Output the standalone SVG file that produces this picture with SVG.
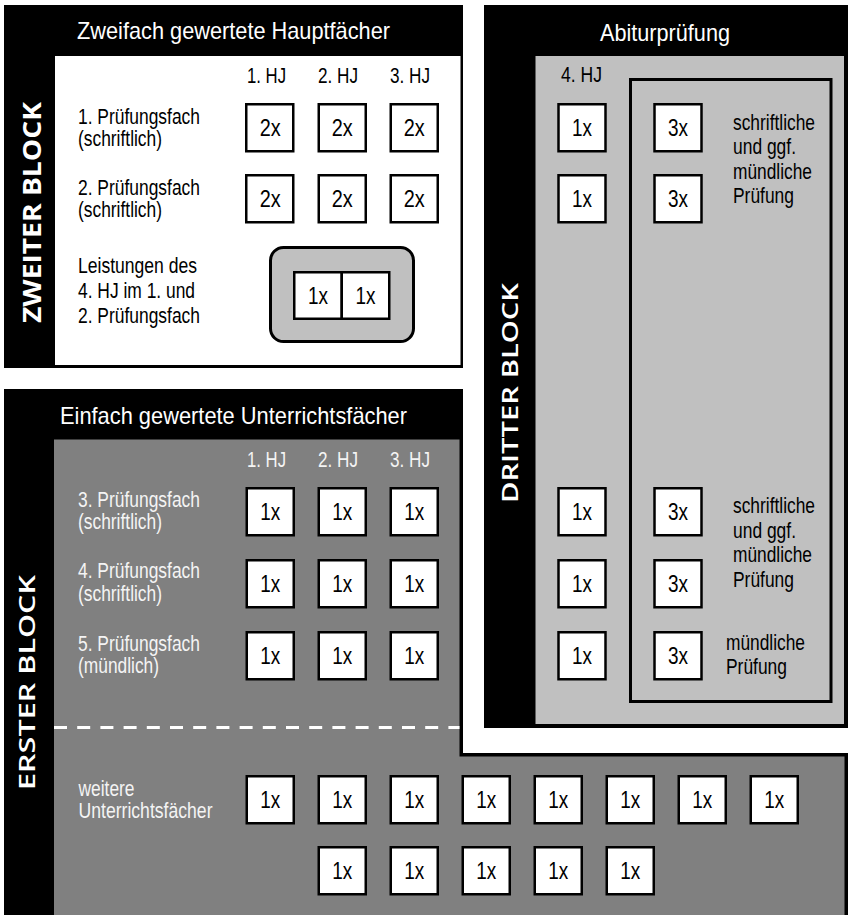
<svg xmlns="http://www.w3.org/2000/svg" width="849" height="915" viewBox="0 0 849 915">
<style>
.box{fill:#fff;stroke:#000;stroke-width:2.5}
.t{font-family:"Liberation Sans Narrow","Liberation Sans",Arial,sans-serif}
.bt{font-size:23.5px;text-anchor:middle;fill:#000}
.lbl{font-size:22px;fill:#000}
.lw{fill:#f4f4f4}
.hd{font-size:22px;text-anchor:middle}
.title{font-size:24px;fill:#fff;text-anchor:middle}
.vert{font-family:"Open Sans","DejaVu Sans","Liberation Sans",sans-serif;font-weight:700;fill:#fff;text-anchor:middle}
</style>
<rect width="849" height="915" fill="#fff"/>

<g id="zweiter-block">
<rect x="4" y="5" width="459" height="363" fill="#000"/>
<rect x="55" y="56" width="405.5" height="309" fill="#fff"/>
<text class="t title" x="233.5" y="39" textLength="313" lengthAdjust="spacingAndGlyphs">Zweifach gewertete Hauptfächer</text>
<text class="vert" transform="translate(41,212.5) rotate(-90)" font-size="25" textLength="221" lengthAdjust="spacingAndGlyphs">ZWEITER BLOCK</text>
<text class="t hd" x="266.5" y="83" textLength="39" lengthAdjust="spacingAndGlyphs">1. HJ</text>
<text class="t hd" x="338" y="83" textLength="40" lengthAdjust="spacingAndGlyphs">2. HJ</text>
<text class="t hd" x="410" y="83" textLength="40" lengthAdjust="spacingAndGlyphs">3. HJ</text>
<text class="t lbl" x="78" y="124" textLength="122" lengthAdjust="spacingAndGlyphs">1. Prüfungsfach</text>
<text class="t lbl" x="78" y="146" textLength="84" lengthAdjust="spacingAndGlyphs">(schriftlich)</text>
<text class="t lbl" x="78" y="195" textLength="122" lengthAdjust="spacingAndGlyphs">2. Prüfungsfach</text>
<text class="t lbl" x="78" y="217" textLength="84" lengthAdjust="spacingAndGlyphs">(schriftlich)</text>
<text class="t lbl" x="78" y="273" textLength="119" lengthAdjust="spacingAndGlyphs">Leistungen des</text>
<text class="t lbl" x="78" y="298" textLength="117" lengthAdjust="spacingAndGlyphs">4. HJ im 1. und</text>
<text class="t lbl" x="78" y="323" textLength="122" lengthAdjust="spacingAndGlyphs">2. Prüfungsfach</text>
<g id="z-1-1"><rect class="box" x="246.25" y="104.25" width="47" height="47"/><text class="t bt" x="270.25" y="136" textLength="21" lengthAdjust="spacingAndGlyphs">2x</text></g>
<g id="z-1-2"><rect class="box" x="318.75" y="104.25" width="47" height="47"/><text class="t bt" x="342.25" y="136" textLength="21" lengthAdjust="spacingAndGlyphs">2x</text></g>
<g id="z-1-3"><rect class="box" x="390.75" y="104.25" width="47" height="47"/><text class="t bt" x="414.25" y="136" textLength="21" lengthAdjust="spacingAndGlyphs">2x</text></g>
<g id="z-2-1"><rect class="box" x="246.25" y="175.25" width="47" height="47"/><text class="t bt" x="270.25" y="207" textLength="21" lengthAdjust="spacingAndGlyphs">2x</text></g>
<g id="z-2-2"><rect class="box" x="318.75" y="175.25" width="47" height="47"/><text class="t bt" x="342.25" y="207" textLength="21" lengthAdjust="spacingAndGlyphs">2x</text></g>
<g id="z-2-3"><rect class="box" x="390.75" y="175.25" width="47" height="47"/><text class="t bt" x="414.25" y="207" textLength="21" lengthAdjust="spacingAndGlyphs">2x</text></g>
<g id="z-hj4">
<rect x="270.5" y="247.5" width="143" height="94" rx="13" fill="#c0c0c0" stroke="#000" stroke-width="3"/>
<rect class="box" x="294.25" y="272.25" width="47.5" height="46.5"/><text class="t bt" x="318" y="304" textLength="20" lengthAdjust="spacingAndGlyphs">1x</text>
<rect class="box" x="341.75" y="272.25" width="47.5" height="46.5"/><text class="t bt" x="365.5" y="304" textLength="20" lengthAdjust="spacingAndGlyphs">1x</text>
</g>
</g>

<g id="abitur-block">
<rect x="484" y="5" width="364" height="723" fill="#000"/>
<rect x="535.5" y="56" width="308.5" height="668" fill="#c0c0c0"/>
<text class="t title" x="665" y="41" textLength="130" lengthAdjust="spacingAndGlyphs">Abiturprüfung</text>
<text class="vert" transform="translate(518,393) rotate(-90)" font-size="21" font-weight="600" textLength="220" lengthAdjust="spacingAndGlyphs" style="font-weight:600">DRITTER BLOCK</text>
<text class="t hd" x="581.5" y="82" textLength="41" lengthAdjust="spacingAndGlyphs">4. HJ</text>
<rect x="630.5" y="79.5" width="200.5" height="622" fill="none" stroke="#000" stroke-width="3"/>
<g id="a-1"><rect class="box" x="558.5" y="104.25" width="47" height="47"/><text class="t bt" x="582" y="136" textLength="20" lengthAdjust="spacingAndGlyphs">1x</text></g>
<g id="a-2"><rect class="box" x="558.5" y="175.25" width="47" height="47"/><text class="t bt" x="582" y="207" textLength="20" lengthAdjust="spacingAndGlyphs">1x</text></g>
<g id="a-3"><rect class="box" x="558.5" y="488.25" width="47" height="47"/><text class="t bt" x="582" y="520" textLength="20" lengthAdjust="spacingAndGlyphs">1x</text></g>
<g id="a-4"><rect class="box" x="558.5" y="560.25" width="47" height="47"/><text class="t bt" x="582" y="592" textLength="20" lengthAdjust="spacingAndGlyphs">1x</text></g>
<g id="a-5"><rect class="box" x="558.5" y="632.25" width="47" height="47"/><text class="t bt" x="582" y="664" textLength="20" lengthAdjust="spacingAndGlyphs">1x</text></g>
<g id="p-1"><rect class="box" x="654.5" y="104.25" width="47" height="47"/><text class="t bt" x="678" y="136" textLength="20" lengthAdjust="spacingAndGlyphs">3x</text></g>
<g id="p-2"><rect class="box" x="654.5" y="175.25" width="47" height="47"/><text class="t bt" x="678" y="207" textLength="20" lengthAdjust="spacingAndGlyphs">3x</text></g>
<g id="p-3"><rect class="box" x="654.5" y="488.25" width="47" height="47"/><text class="t bt" x="678" y="520" textLength="20" lengthAdjust="spacingAndGlyphs">3x</text></g>
<g id="p-4"><rect class="box" x="654.5" y="560.25" width="47" height="47"/><text class="t bt" x="678" y="592" textLength="20" lengthAdjust="spacingAndGlyphs">3x</text></g>
<g id="p-5"><rect class="box" x="654.5" y="632.25" width="47" height="47"/><text class="t bt" x="678" y="664" textLength="20" lengthAdjust="spacingAndGlyphs">3x</text></g>
<text class="t lbl" x="733" y="130" textLength="82" lengthAdjust="spacingAndGlyphs">schriftliche</text>
<text class="t lbl" x="733" y="154" textLength="63" lengthAdjust="spacingAndGlyphs">und ggf.</text>
<text class="t lbl" x="733" y="179" textLength="79" lengthAdjust="spacingAndGlyphs">mündliche</text>
<text class="t lbl" x="733" y="203" textLength="61" lengthAdjust="spacingAndGlyphs">Prüfung</text>
<text class="t lbl" x="733" y="513" textLength="82" lengthAdjust="spacingAndGlyphs">schriftliche</text>
<text class="t lbl" x="733" y="538" textLength="63" lengthAdjust="spacingAndGlyphs">und ggf.</text>
<text class="t lbl" x="733" y="562" textLength="79" lengthAdjust="spacingAndGlyphs">mündliche</text>
<text class="t lbl" x="733" y="587" textLength="61" lengthAdjust="spacingAndGlyphs">Prüfung</text>
<text class="t lbl" x="726" y="650" textLength="79" lengthAdjust="spacingAndGlyphs">mündliche</text>
<text class="t lbl" x="726" y="674" textLength="61" lengthAdjust="spacingAndGlyphs">Prüfung</text>
</g>

<g id="erster-block">
<path d="M4,389 H463 V753 H848 V915 H4 Z" fill="#000"/>
<path d="M54,439.5 H459.5 V756.5 H844.5 V915 H54 Z" fill="#808080"/>
<text class="t title" x="233.5" y="424" textLength="347" lengthAdjust="spacingAndGlyphs">Einfach gewertete Unterrichtsfächer</text>
<text class="vert" transform="translate(35,682.5) rotate(-90)" font-size="21" textLength="215" lengthAdjust="spacingAndGlyphs" style="font-weight:600">ERSTER BLOCK</text>
<line x1="54" y1="727.5" x2="459.5" y2="727.5" stroke="#fff" stroke-width="3" stroke-dasharray="13 10.2"/>
<text class="t hd lw" x="266.5" y="467" textLength="39" lengthAdjust="spacingAndGlyphs">1. HJ</text>
<text class="t hd lw" x="338" y="467" textLength="40" lengthAdjust="spacingAndGlyphs">2. HJ</text>
<text class="t hd lw" x="410" y="467" textLength="40" lengthAdjust="spacingAndGlyphs">3. HJ</text>
<text class="t lbl lw" x="78" y="507" textLength="122" lengthAdjust="spacingAndGlyphs">3. Prüfungsfach</text>
<text class="t lbl lw" x="78" y="529" textLength="84" lengthAdjust="spacingAndGlyphs">(schriftlich)</text>
<text class="t lbl lw" x="78" y="578" textLength="122" lengthAdjust="spacingAndGlyphs">4. Prüfungsfach</text>
<text class="t lbl lw" x="78" y="601" textLength="84" lengthAdjust="spacingAndGlyphs">(schriftlich)</text>
<text class="t lbl lw" x="78" y="651" textLength="122" lengthAdjust="spacingAndGlyphs">5. Prüfungsfach</text>
<text class="t lbl lw" x="78" y="673" textLength="81" lengthAdjust="spacingAndGlyphs">(mündlich)</text>
<text class="t lbl lw" x="78.5" y="796" textLength="56" lengthAdjust="spacingAndGlyphs">weitere</text>
<text class="t lbl lw" x="78.5" y="818" textLength="134" lengthAdjust="spacingAndGlyphs">Unterrichtsfächer</text>
<g id="e-3-1"><rect class="box" x="246.75" y="488.25" width="47" height="47"/><text class="t bt" x="270.25" y="520" textLength="20" lengthAdjust="spacingAndGlyphs">1x</text></g>
<g id="e-3-2"><rect class="box" x="318.75" y="488.25" width="47" height="47"/><text class="t bt" x="342.25" y="520" textLength="20" lengthAdjust="spacingAndGlyphs">1x</text></g>
<g id="e-3-3"><rect class="box" x="390.75" y="488.25" width="47" height="47"/><text class="t bt" x="414.25" y="520" textLength="20" lengthAdjust="spacingAndGlyphs">1x</text></g>
<g id="e-4-1"><rect class="box" x="246.75" y="560.25" width="47" height="47"/><text class="t bt" x="270.25" y="592" textLength="20" lengthAdjust="spacingAndGlyphs">1x</text></g>
<g id="e-4-2"><rect class="box" x="318.75" y="560.25" width="47" height="47"/><text class="t bt" x="342.25" y="592" textLength="20" lengthAdjust="spacingAndGlyphs">1x</text></g>
<g id="e-4-3"><rect class="box" x="390.75" y="560.25" width="47" height="47"/><text class="t bt" x="414.25" y="592" textLength="20" lengthAdjust="spacingAndGlyphs">1x</text></g>
<g id="e-5-1"><rect class="box" x="246.75" y="632.25" width="47" height="47"/><text class="t bt" x="270.25" y="664" textLength="20" lengthAdjust="spacingAndGlyphs">1x</text></g>
<g id="e-5-2"><rect class="box" x="318.75" y="632.25" width="47" height="47"/><text class="t bt" x="342.25" y="664" textLength="20" lengthAdjust="spacingAndGlyphs">1x</text></g>
<g id="e-5-3"><rect class="box" x="390.75" y="632.25" width="47" height="47"/><text class="t bt" x="414.25" y="664" textLength="20" lengthAdjust="spacingAndGlyphs">1x</text></g>
<g id="w-1-1"><rect class="box" x="246.75" y="776.25" width="47" height="47"/><text class="t bt" x="270.25" y="808" textLength="20" lengthAdjust="spacingAndGlyphs">1x</text></g>
<g id="w-1-2"><rect class="box" x="318.75" y="776.25" width="47" height="47"/><text class="t bt" x="342.25" y="808" textLength="20" lengthAdjust="spacingAndGlyphs">1x</text></g>
<g id="w-1-3"><rect class="box" x="390.75" y="776.25" width="47" height="47"/><text class="t bt" x="414.25" y="808" textLength="20" lengthAdjust="spacingAndGlyphs">1x</text></g>
<g id="w-1-4"><rect class="box" x="462.75" y="776.25" width="47" height="47"/><text class="t bt" x="486.25" y="808" textLength="20" lengthAdjust="spacingAndGlyphs">1x</text></g>
<g id="w-1-5"><rect class="box" x="534.75" y="776.25" width="47" height="47"/><text class="t bt" x="558.25" y="808" textLength="20" lengthAdjust="spacingAndGlyphs">1x</text></g>
<g id="w-1-6"><rect class="box" x="606.75" y="776.25" width="47" height="47"/><text class="t bt" x="630.25" y="808" textLength="20" lengthAdjust="spacingAndGlyphs">1x</text></g>
<g id="w-1-7"><rect class="box" x="678.75" y="776.25" width="47" height="47"/><text class="t bt" x="702.25" y="808" textLength="20" lengthAdjust="spacingAndGlyphs">1x</text></g>
<g id="w-1-8"><rect class="box" x="750.75" y="776.25" width="47" height="47"/><text class="t bt" x="774.25" y="808" textLength="20" lengthAdjust="spacingAndGlyphs">1x</text></g>
<g id="w-2-1"><rect class="box" x="318.75" y="847.25" width="47" height="47"/><text class="t bt" x="342.25" y="879" textLength="20" lengthAdjust="spacingAndGlyphs">1x</text></g>
<g id="w-2-2"><rect class="box" x="390.75" y="847.25" width="47" height="47"/><text class="t bt" x="414.25" y="879" textLength="20" lengthAdjust="spacingAndGlyphs">1x</text></g>
<g id="w-2-3"><rect class="box" x="462.75" y="847.25" width="47" height="47"/><text class="t bt" x="486.25" y="879" textLength="20" lengthAdjust="spacingAndGlyphs">1x</text></g>
<g id="w-2-4"><rect class="box" x="534.75" y="847.25" width="47" height="47"/><text class="t bt" x="558.25" y="879" textLength="20" lengthAdjust="spacingAndGlyphs">1x</text></g>
<g id="w-2-5"><rect class="box" x="606.75" y="847.25" width="47" height="47"/><text class="t bt" x="630.25" y="879" textLength="20" lengthAdjust="spacingAndGlyphs">1x</text></g>
</g>
<g id="connectors"/>
</svg>
